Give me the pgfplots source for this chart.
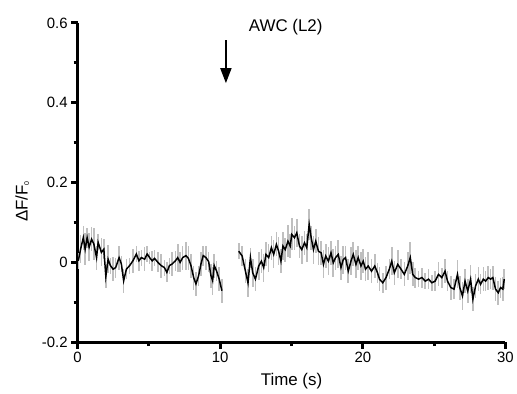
\documentclass[border=0pt]{standalone}
\usepackage{fontspec}
\setmainfont{Liberation Sans}
\usepackage{pgfplots}
\pgfplotsset{compat=1.18}
\usepackage{pgfplotstable}
\usetikzlibrary{arrows.meta}

\pgfplotstableread{
t v e
0.05 0.004 0.020
0.21 0.033 0.035
0.40 0.062 0.030
0.53 0.033 0.040
0.67 0.062 0.025
0.81 0.038 0.035
0.98 0.058 0.030
1.14 0.046 0.040
1.33 0.012 0.030
1.44 0.050 0.020
1.67 0.025 0.035
1.84 0.033 0.025
1.98 -0.035 0.030
2.14 0.008 0.035
2.30 -0.008 0.020
2.49 -0.017 0.030
2.67 -0.013 0.025
2.91 0.012 0.030
3.07 -0.004 0.020
3.23 -0.046 0.030
3.42 -0.017 0.025
3.65 -0.008 0.020
3.88 0.004 0.030
4.12 0.021 0.020
4.30 0.004 0.025
4.47 0.012 0.020
4.70 0.008 0.030
4.88 0.021 0.020
5.05 0.012 0.015
5.23 0.004 0.025
5.40 0.010 0.020
5.63 0.000 0.025
5.86 -0.008 0.030
6.09 -0.013 0.020
6.26 -0.025 0.025
6.44 -0.008 0.020
6.63 -0.004 0.030
6.86 0.004 0.025
7.02 0.012 0.035
7.19 0.000 0.025
7.37 0.012 0.030
7.60 0.017 0.035
7.77 0.010 0.030
7.95 -0.008 0.030
8.14 -0.038 0.030
8.30 -0.054 0.030
8.49 -0.033 0.025
8.65 -0.004 0.030
8.81 0.017 0.025
9.00 0.012 0.030
9.19 0.002 0.025
9.35 -0.033 0.030
9.47 -0.046 0.035
9.58 -0.008 0.030
9.74 -0.021 0.025
9.93 -0.042 0.030
10.12 -0.071 0.030
}\segA

\pgfplotstableread{
t v e
11.30 0.028 0.020
11.54 0.016 0.025
11.77 -0.022 0.030
11.95 -0.051 0.035
12.12 0.012 0.025
12.28 -0.026 0.035
12.47 -0.042 0.030
12.70 -0.009 0.035
12.89 0.003 0.030
13.05 -0.013 0.035
13.21 0.020 0.030
13.40 0.012 0.035
13.59 0.037 0.030
13.75 0.020 0.035
13.94 0.045 0.030
14.10 0.028 0.035
14.26 0.003 0.030
14.40 0.041 0.035
14.56 0.032 0.030
14.75 0.053 0.040
14.91 0.041 0.030
15.02 0.070 0.040
15.21 0.062 0.030
15.37 0.074 0.035
15.56 0.041 0.030
15.72 0.032 0.035
15.91 0.049 0.030
16.07 0.037 0.035
16.24 0.095 0.040
16.38 0.062 0.030
16.54 0.032 0.035
16.70 0.053 0.030
16.89 0.028 0.035
17.08 0.024 0.030
17.24 -0.005 0.035
17.40 0.016 0.030
17.59 0.003 0.035
17.77 0.024 0.030
17.93 -0.001 0.035
18.09 0.012 0.030
18.28 0.020 0.035
18.47 -0.013 0.030
18.63 0.007 0.035
18.79 0.012 0.030
18.98 -0.022 0.030
19.17 0.003 0.035
19.33 0.020 0.030
19.52 -0.005 0.035
19.68 0.012 0.030
19.87 -0.009 0.035
20.03 0.003 0.030
20.19 -0.017 0.030
20.38 -0.009 0.035
20.61 -0.022 0.030
20.84 -0.009 0.030
21.03 -0.026 0.025
21.17 -0.042 0.030
21.40 -0.051 0.025
21.63 -0.038 0.030
21.86 -0.017 0.025
22.03 0.003 0.035
22.21 -0.026 0.030
22.45 -0.005 0.035
22.68 -0.017 0.025
22.91 -0.030 0.030
23.15 -0.009 0.035
23.33 0.012 0.040
23.50 -0.030 0.030
23.68 -0.038 0.025
23.91 -0.042 0.020
24.15 -0.038 0.025
24.38 -0.047 0.020
24.61 -0.042 0.025
24.84 -0.051 0.020
25.07 -0.047 0.025
25.31 -0.030 0.030
25.54 -0.038 0.025
25.77 -0.022 0.030
25.94 -0.047 0.025
26.17 -0.063 0.030
26.40 -0.067 0.025
26.64 -0.030 0.035
26.80 -0.063 0.030
26.99 -0.084 0.035
27.17 -0.047 0.030
27.36 -0.072 0.030
27.56 -0.042 0.035
27.72 -0.092 0.030
27.91 -0.059 0.030
28.10 -0.042 0.030
28.26 -0.055 0.025
28.45 -0.042 0.030
28.61 -0.047 0.025
28.80 -0.038 0.030
28.96 -0.042 0.025
29.12 -0.038 0.030
29.31 -0.067 0.030
29.50 -0.076 0.030
29.66 -0.063 0.025
29.82 -0.067 0.030
29.92 -0.042 0.025
}\segB

\begin{document}
\begin{tikzpicture}[line width=3.2bp]
\begin{axis}[
  name=ax,
  scale only axis,
  width=430bp, height=321bp,
  xmin=0, xmax=30, ymin=-0.2, ymax=0.6,
  axis x line*=bottom,
  axis y line*=left,
  axis line style={line width=3.2bp, black},
  clip mode=individual,
  tick align=outside,
  major tick length=6.5bp,
  minor tick length=4bp,
  major tick style={line width=3bp, black},
  minor tick style={line width=3bp, black},
  xtick={0,10,20,30},
  xticklabels={0,10,20,30},
  minor xtick={5,15,25},
  ytick={-0.2,0,0.2,0.4,0.6},
  yticklabels={-0.2,0,0.2,0.4,0.6},
  minor ytick={-0.1,0.1,0.3,0.5},
  tick label style={font=\fontsize{15bp}{17bp}\selectfont},
  xlabel={Time (s)},
  ylabel={ΔF/F\raisebox{-0.15ex}{\fontsize{7bp}{8bp}\selectfont 0}},
  ylabel style={at={(ticklabel cs:0.44)}, font=\fontsize{17bp}{20bp}\selectfont, yshift=6bp},
  xlabel style={font=\fontsize{17bp}{20bp}\selectfont, yshift=-4bp},
]
\addplot[draw=none, mark=none, forget plot,
  error bars/.cd, y dir=both, y explicit,
  error bar style={color=black!25, line width=1.6bp}, error mark=none]
  table[x=t, y=v, y error=e] {\segA};
\addplot[draw=none, mark=none, forget plot,
  error bars/.cd, y dir=both, y explicit,
  error bar style={color=black!25, line width=1.6bp}, error mark=none]
  table[x=t, y=v, y error=e] {\segB};
\addplot[black, line width=1.5bp, mark=none] table[x=t, y=v] {\segA};
\addplot[black, line width=1.5bp, mark=none] table[x=t, y=v] {\segB};
\draw[line width=1.8bp, -{Triangle[length=15bp, width=11bp]}] (axis cs:10.4,0.556) -- (axis cs:10.4,0.449);
\node[anchor=base west, font=\fontsize{17bp}{20bp}\selectfont, inner sep=0pt] at (axis cs:12.0,0.578) {AWC (L2)};
\end{axis}
\path (ax.south west) ++(-78bp,-52bp) rectangle ([shift={(9bp,23bp)}]ax.north east);
\end{tikzpicture}
\end{document}
